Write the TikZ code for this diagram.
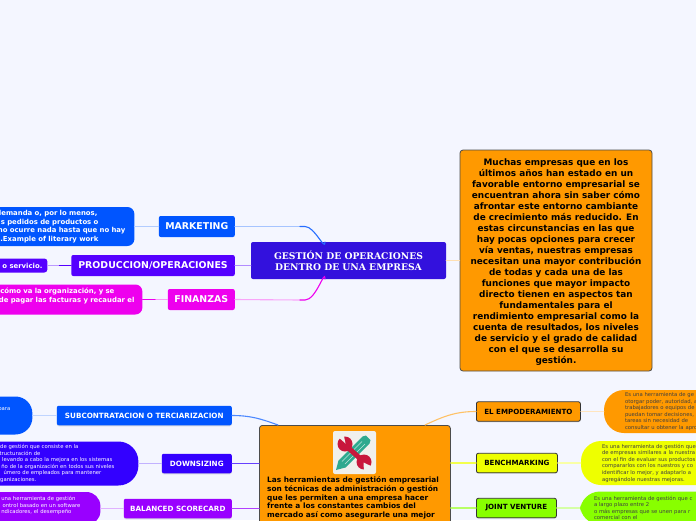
\documentclass[tikz,border=0pt]{standalone}
\usepackage{fontspec}
\setmainfont{DejaVu Sans}
\newfontfamily\titlefont{DejaVu Serif}
\usepackage{xcolor}
\usetikzlibrary{arrows.meta,positioning,calc,shadows}
\definecolor{paper}{HTML}{F4F6FF}
\definecolor{core}{HTML}{3311DD}
\definecolor{azul}{HTML}{0055FF}
\definecolor{violeta}{HTML}{5500FF}
\definecolor{indigo}{HTML}{3300FF}
\definecolor{rosa}{HTML}{EE00EE}
\definecolor{morado}{HTML}{9900FF}
\definecolor{naranja}{HTML}{FF9900}
\definecolor{amarillo}{HTML}{EEFF00}
\definecolor{verde}{HTML}{88FF00}
\definecolor{rojo}{HTML}{C8173C}
\definecolor{teal}{HTML}{2EA98F}
\definecolor{iconbg}{HTML}{F0F0EC}
\newcommand{\pad}[1]{\kern#1pt}
\begin{document}
\begin{tikzpicture}[x=1pt, y=-1pt, line cap=round]
\tikzstyle{lab}=[rounded corners=2pt, text=white, font=\fontsize{9.4}{11}\selectfont\bfseries, minimum height=21pt, inner sep=0pt, anchor=east, align=center]
\tikzstyle{sub}=[lab, font=\fontsize{7.2}{10}\selectfont\bfseries, minimum height=19.5pt, drop shadow={shadow xshift=0pt, shadow yshift=-1pt, opacity=0.25}]
\tikzstyle{tool}=[sub, anchor=west, text=black, draw=black!80, line width=0.8pt, font=\fontsize{7.1}{10}\selectfont\bfseries]
\tikzstyle{blobl}=[rounded corners=7pt, text=white, font=\fontsize{6.9}{8.5}\selectfont\bfseries, align=right, inner ysep=0pt, anchor=east, text width=190pt]
\tikzstyle{small}=[font=\fontsize{5.3}{6.6}\selectfont]
\tikzstyle{blobr}=[rounded corners=20pt, text=black!75, small, align=left, inner ysep=0pt, anchor=west, text width=190pt]
\tikzstyle{wire}=[line width=1.1pt]
\useasboundingbox (0,0) rectangle (696,520);
\clip (0,0) rectangle (696,520);
\fill[paper] (0,0) rectangle (696,520);
% upper half
\node[lab, fill=core, minimum width=195pt, minimum height=37pt, anchor=center, font=\titlefont\fontsize{9.2}{10.8}\selectfont\bfseries] (core) at (348.5,260.5) {GESTIÓN DE OPERACIONES\\ DENTRO DE UNA EMPRESA};
\node[lab, fill=azul, minimum width=76pt] (marketing) at (235,226.5) {MARKETING};
\node[lab, fill=violeta, minimum width=163.5pt] (produccion) at (235,265.5) {PRODUCCION/OPERACIONES};
\node[lab, fill=rosa, minimum width=67pt] (finanzas) at (235,299.5) {FINANZAS};
\node[blobl, fill=azul, left=24pt of marketing, anchor=east, minimum height=39pt, inner xsep=9pt] (mkttext) {demanda o, por lo menos,\pad{28}\\s pedidos de productos o\pad{27}\\mo ocurre nada hasta que no hay\\.Example of literary work\pad{27}};
\node[blobl, fill=violeta, left=23.5pt of produccion, anchor=east, minimum height=14pt, rounded corners=3pt, inner xsep=5pt] (prodtext) {o servicio.};
\node[blobl, fill=rosa, left=25pt of finanzas, anchor=east, minimum height=30pt, inner xsep=8pt] (fintext) {cómo va la organización, y se\pad{20}\\de pagar las facturas y recaudar el\\\mbox{}};
\node[rounded corners=3pt, fill=naranja, draw=black!70, line width=0.8pt, minimum width=192pt, minimum height=221pt, inner sep=0pt, align=center, font=\fontsize{8.9}{11}\selectfont\bfseries, text=black] (intro) at (556,260.5) {\mbox{}\\[-2pt]Muchas empresas que en los\\últimos años han estado en un\\favorable entorno empresarial se\\encuentran ahora sin saber cómo\\afrontar este entorno cambiante\\de crecimiento más reducido. En\\estas circunstancias en las que\\hay pocas opciones para crecer\\vía ventas, nuestras empresas\\necesitan una mayor contribución\\de todas y cada una de las\\funciones que mayor impacto\\directo tienen en aspectos tan\\fundamentales para el\\rendimiento empresarial como la\\cuenta de resultados, los niveles\\de servicio y el grado de calidad\\con el que se desarrolla su\\gestión.};
% lower half
\node[rounded corners=3pt, fill=naranja, draw=black!70, line width=0.8pt, minimum width=191pt, minimum height=140pt, anchor=north west, inner sep=0pt] (tools) at (259,425) {};
\node[anchor=north west, inner sep=0pt, align=left, font=\fontsize{7.4}{8.7}\selectfont\bfseries, text=black] (toolstext) at (267,476.5) {Las herramientas de gestión empresarial\\son técnicas de administración o gestión\\que les permiten a una empresa hacer\\frente a los constantes cambios del\\mercado así como asegurarle una mejor};
\node[sub, fill=azul, minimum width=175pt] (subcon) at (232,415.5) {SUBCONTRATACION O TERCIARIZACION};
\node[sub, fill=indigo, minimum width=70pt] (down) at (232,463.5) {DOWNSIZING};
\node[sub, fill=morado, minimum width=108pt] (balanced) at (232,508.5) {BALANCED SCORECARD};
\node[tool, fill=naranja, minimum width=104pt] (empo) at (476,411.5) {EL EMPODERAMIENTO};
\node[tool, fill=amarillo, minimum width=81pt] (bench) at (476,463) {BENCHMARKING};
\node[tool, fill=verde, minimum width=80pt] (joint) at (476,508) {JOINT VENTURE};
\node[blobl, fill=azul, left=24pt of subcon, anchor=east, minimum height=38pt, rounded corners=17pt, small, inner xsep=22pt] (subtext) {para\\[6.8pt]\mbox{}};
\node[blobl, fill=indigo, left=23pt of down, anchor=east, minimum height=44pt, rounded corners=20pt, small, inner xsep=24pt] (downtext) {de gestión que consiste en la\pad{36}\\structuración de\pad{74}\\levando a cabo la mejora en los sistemas\pad{2}\\ño de la organización en todos sus niveles\\úmero de empleados para mantener\pad{13}\\organizaciones.\pad{78}};
\node[blobl, fill=morado, left=23pt of balanced, anchor=east, minimum height=33pt, rounded corners=14pt, small, inner xsep=20pt] (baltext) {una herramienta de gestión\pad{5}\\ontrol basado en un software\\ndicadores, el desempeño\pad{9}\\\mbox{}};
\node[blobr, fill=naranja, right=23pt of empo, anchor=west, minimum height=43pt, inner xsep=21pt] (empotext) {Es una herramienta de ge\\otorgar poder, autoridad, a\\trabajadores o equipos de\\puedan tomar decisiones,\\tareas sin necesidad de\\consultar u obtener la apro};
\node[blobr, fill=amarillo, right=23pt of bench, anchor=west, minimum height=44pt, inner xsep=21pt] (benchtext) {Es una herramienta de gestión que\\de empresas similares a la nuestra\\con el fin de evaluar sus productos\\compararlos con los nuestros y co\\identificar lo mejor, y adaptarlo a\\agregándole nuestras mejoras.};
\node[blobr, fill=verde, right=23pt of joint, anchor=west, minimum height=33pt, inner xsep=14pt] (jointtext) {Es una herramienta de gestión que c\\a largo plazo entre 2\\ o más empresas que se unen para r\\comercial con el};
% icon
\node[fill=iconbg, rounded corners=2pt, minimum width=43pt, minimum height=43pt, inner sep=0pt] (icon) at (354.5,452.5) {};
\fill[teal] (336,470) -- (338.5,460.5) -- (362.5,436.5) -- (366,435.5) -- (370.5,440) -- (369.5,443.5) -- (345.5,467.5) -- cycle;
\draw[white!70!teal, line width=0.5pt] (342,461.5) -- (362,441.5) (345,464) -- (365,444);
\draw[rojo, line width=5pt, line cap=butt] (345,445) -- (363,461);
\fill[rojo] (345,444) circle (7.5) (364,462) circle (7.5);
\fill[iconbg] (345.5,443.5) -- (336,435) -- (343,431.5) -- cycle;
\fill[iconbg] (363.5,462.5) -- (364,472) -- (373,467) -- cycle;
% connectors
\coordinate (mktbend) at (300,226.5);
\coordinate (finbend) at (300,300);
\draw[wire, azul!35] (marketing.east) -- (mktbend);
\draw[wire, azul!85] (mktbend) -- (305,226.5) to[out=0, in=-90] (325,242);
\draw[wire, rosa!35] (finanzas.east) -- (finbend);
\draw[wire, rosa] (finbend) -- (305,300) to[out=0, in=90] (325,279);
\draw[wire, violeta!45] (produccion.east) -- (core.west |- produccion.east);
\draw[wire, naranja!30] (core.east) -- (intro.west |- core.east);
\draw[wire, line width=1.5pt, azul!30] (mkttext.east) -- (marketing.west);
\draw[wire, violeta!40] (prodtext.east) -- ($(prodtext.east)!0.5!(produccion.west)$);
\draw[wire, violeta] ($(prodtext.east)!0.5!(produccion.west)$) -- (produccion.west);
\draw[wire, rosa!40] (finanzas.west) -- ($(fintext.east)!0.5!(finanzas.west)$);
\draw[wire, rosa] ($(fintext.east)!0.5!(finanzas.west)$) -- (fintext.east);
\coordinate (subin) at (278,425);
\coordinate (empoin) at (425,425);
\draw[wire, azul!70] (subcon.east) to[out=0, in=160] (subin);
\draw[wire, indigo!75] (down.east) -- (tools.west |- down.east);
\draw[wire, morado!75] (balanced.east) -- (tools.west |- balanced.east);
\draw[wire, naranja!60] (empo.west) to[out=180, in=25] (empoin);
\draw[wire, amarillo!70] (bench.west) -- (tools.east |- bench.west);
\draw[wire, verde!60] (joint.west) -- (tools.east |- joint.west);
\draw[wire, azul!25] (subtext.east) -- (subcon.west);
\draw[wire, indigo!30] (downtext.east) -- (down.west);
\draw[wire, morado!30] (baltext.east) -- (balanced.west);
\draw[wire, naranja!25] (empo.east) -- (empotext.west);
\draw[wire, amarillo!35] (bench.east) -- (benchtext.west);
\draw[wire, verde!35] (joint.east) -- (jointtext.west);
\end{tikzpicture}
\end{document}
